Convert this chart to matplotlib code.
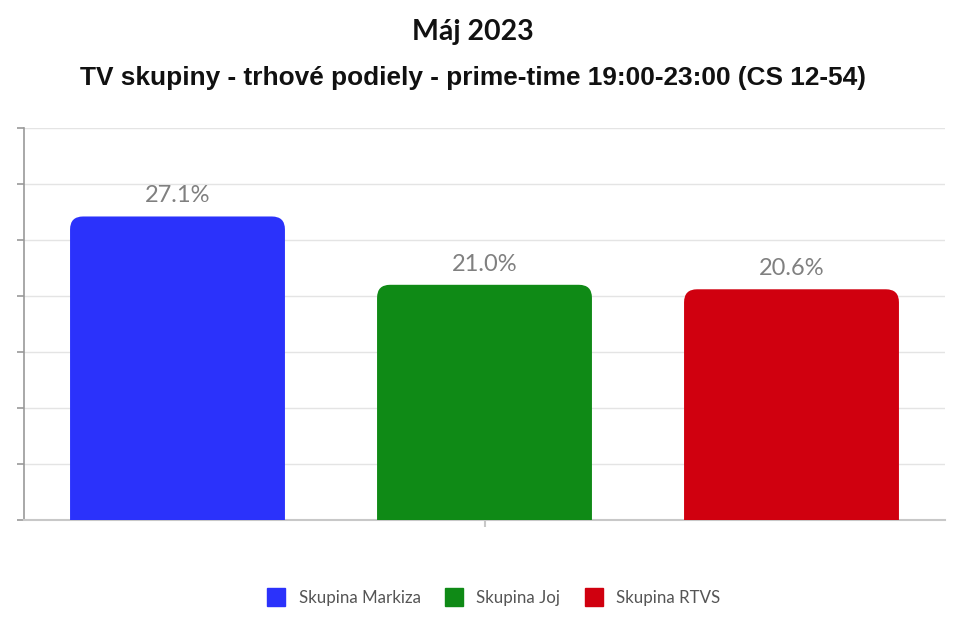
import numpy as np
import matplotlib.pyplot as plt
from matplotlib.patches import FancyBboxPatch
from matplotlib.lines import Line2D

# data
groups = ['Skupina Markiza', 'Skupina Joj', 'Skupina RTVS']
shares = [27.1, 21.0, 20.6]
labels = ['27.1%', '21.0%', '20.6%']
colors = ['#2b32fb', '#0f8a16', '#d0000f']

W, H = 959, 624
fig = plt.figure(figsize=(W / 100, H / 100), dpi=100)
ax = fig.add_axes([24 / W, 104 / H, 921 / W, 392 / H])

ymax = 35
ax.set_xlim(-0.5, 2.5)
ax.set_ylim(0, ymax)

# bars with rounded tops (bottom pushed below 0 and clipped)
bw = 0.7
px_x = 921 / 3.0
px_y = 392 / ymax
rad_px = 13
r = rad_px / px_x
aspect = (rad_px / px_y) / r
x = np.arange(len(groups))
for xi, v, c, lbl in zip(x, shares, colors, labels):
    p = FancyBboxPatch((xi - bw / 2, -3), bw, v + 3,
                       boxstyle='round,pad=0,rounding_size=%f' % r,
                       mutation_aspect=aspect, fc=c, ec='none', zorder=3)
    ax.add_patch(p)
    ax.text(xi, v + 0.9, lbl, ha='center', va='bottom',
            fontsize=17, color='#808080', family='Lato')

ax.set_yticks(np.arange(0, ymax + 1, 5))
ax.set_yticklabels([])
ax.set_xticks([1])
ax.set_xticklabels([])
ax.grid(axis='y', color='#e4e4e4', lw=1, zorder=0)
ax.set_axisbelow(True)
for s in ['top', 'right']:
    ax.spines[s].set_visible(False)
ax.spines['left'].set_color('#999999')
ax.spines['bottom'].set_color('#c8c8c8')
ax.spines['left'].set_linewidth(1.2)
ax.spines['bottom'].set_linewidth(1.5)
ax.tick_params(axis='y', length=5, color='#999999', width=1.2)
ax.tick_params(axis='x', length=5, color='#c8c8c8', width=1.5)

fig.text(473 / W, 1 - 32 / H, 'Máj 2023', ha='center', va='center',
         fontsize=20.5, family='Lato', fontweight='bold', color='#111111')
fig.text(473 / W, 1 - 78 / H, 'TV skupiny - trhové podiely - prime-time 19:00-23:00 (CS 12-54)',
         ha='center', va='center', fontsize=18.9, family='Liberation Sans',
         fontweight='bold', color='#111111')

handles = [Line2D([], [], marker='s', ls='none', markersize=13, color=c) for c in colors]
fig.legend(handles, groups, loc='center', bbox_to_anchor=(490 / W, 1 - 598 / H),
           ncol=3, frameon=False, prop={'family': 'Lato', 'size': 12.2},
           labelcolor='#555555', handletextpad=0.3, columnspacing=1.0)

fig.savefig('out.png', dpi=100)
